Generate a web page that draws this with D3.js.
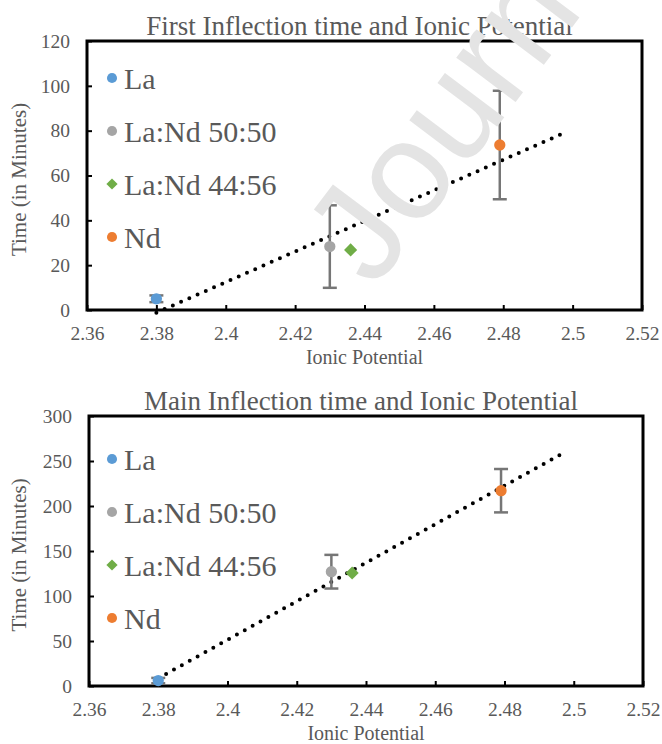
<!DOCTYPE html>
<html>
<head>
<meta charset="utf-8">
<script src="https://cdn.jsdelivr.net/npm/d3@7"></script>
<style>
  body { margin: 0; background: #fff; }
  text { font-family: "Liberation Serif", "Times New Roman", serif; fill: #595959; }
</style>
</head>
<body>
<svg id="chart" width="662" height="744"></svg>
<script>
// series shared by both panels
const seriesNames = ['La', 'La:Nd 50:50', 'La:Nd 44:56', 'Nd'];
const seriesColors = ['#5b9bd5', '#a5a5a5', '#70ad47', '#ed7d31'];
const seriesShapes = ['circle', 'circle', 'diamond', 'circle'];
const ionicPotential = [2.38, 2.43, 2.436, 2.479];

// first inflection (minutes) + error
const firstTime = [5, 28.3, 26.8, 73.6];
const firstErr = [1.5, 18.4, 0, 24.2];
const firstTrendX = [2.38, 2.4973];
const firstTrendY = [-1.2, 78.8];

// main inflection (minutes) + error
const mainTime = [6, 127, 125.5, 217];
const mainErr = [3, 18.7, 0, 24.1];
const mainTrendX = [2.38, 2.498];
const mainTrendY = [8.5, 261];

const xTicks = [2.36, 2.38, 2.4, 2.42, 2.44, 2.46, 2.48, 2.5, 2.52];
const firstYTicks = [0, 20, 40, 60, 80, 100, 120];
const mainYTicks = [0, 50, 100, 150, 200, 250, 300];

const svg = d3.select('#chart');

function drawPanel(opts) {
  const g = svg.append('g');
  const x = d3.scaleLinear().domain([2.36, 2.52]).range([opts.left, opts.right]);
  const y = d3.scaleLinear().domain([0, opts.yMax]).range([opts.bottom, opts.top]);

  // title
  g.append('text')
    .attr('x', (opts.left + opts.right) / 2 - 5)
    .attr('y', opts.top - 6)
    .attr('text-anchor', 'middle')
    .style('font-size', '27px')
    .text(opts.title);

  // axes, ticks pointing inside
  const xAxis = d3.axisBottom(x).tickValues(xTicks).tickSize(-5).tickFormat(d => +d.toFixed(2));
  const yAxis = d3.axisLeft(y).tickValues(opts.yTicks).tickSize(-5);

  const gx = g.append('g').attr('transform', `translate(0,${opts.bottom})`).call(xAxis);
  const gy = g.append('g').attr('transform', `translate(${opts.left},0)`).call(yAxis);
  [gx, gy].forEach(a => {
    a.attr('font-family', null);
    a.select('.domain').remove();
    a.selectAll('.tick line').attr('stroke', '#000').attr('stroke-width', 2);
    a.selectAll('.tick text').style('font-size', '19.5px')
      .style('font-family', '"Liberation Serif", "Times New Roman", serif').attr('fill', '#595959');
  });
  gx.selectAll('.tick text').attr('y', 16);
  gy.selectAll('.tick text').attr('x', -17);

  // plot frame
  g.append('rect')
    .attr('x', opts.left).attr('y', opts.top)
    .attr('width', opts.right - opts.left).attr('height', opts.bottom - opts.top)
    .attr('fill', 'none').attr('stroke', '#000').attr('stroke-width', 3);

  // axis titles
  g.append('text')
    .attr('x', (opts.left + opts.right) / 2)
    .attr('y', opts.bottom + 54)
    .attr('text-anchor', 'middle')
    .style('font-size', '20px')
    .text('Ionic Potential');
  g.append('text')
    .attr('transform', `translate(26,${(opts.top + opts.bottom) / 2 + 4}) rotate(-90)`)
    .attr('text-anchor', 'middle')
    .style('font-size', '21px')
    .text('Time (in Minutes)');

  // trendline (dotted)
  const line = d3.line().x(d => x(d[0])).y(d => y(d[1]));
  g.append('path')
    .datum(d3.zip(opts.trendX, opts.trendY))
    .attr('d', line)
    .attr('fill', 'none').attr('stroke', '#000')
    .attr('stroke-width', 4).attr('stroke-linecap', 'round')
    .attr('stroke-dasharray', '0 9');

  const pts = ionicPotential.map((v, i) => ({ x: v, y: opts.values[i], e: opts.errs[i], i }));

  // error bars
  const eb = g.selectAll('.eb').data(pts.filter(d => d.e > 0)).enter().append('g')
    .attr('stroke', '#767676').attr('stroke-width', 2.5);
  eb.append('line')
    .attr('x1', d => x(d.x)).attr('x2', d => x(d.x))
    .attr('y1', d => y(d.y - d.e)).attr('y2', d => y(d.y + d.e));
  eb.append('line')
    .attr('x1', d => x(d.x) - 7).attr('x2', d => x(d.x) + 7)
    .attr('y1', d => y(d.y - d.e)).attr('y2', d => y(d.y - d.e));
  eb.append('line')
    .attr('x1', d => x(d.x) - 7).attr('x2', d => x(d.x) + 7)
    .attr('y1', d => y(d.y + d.e)).attr('y2', d => y(d.y + d.e));

  // markers
  const sym = i => seriesShapes[i] === 'diamond'
    ? d3.symbol(d3.symbolDiamond2, 110)() : d3.symbol(d3.symbolCircle, 100)();
  g.selectAll('.pt').data(pts).enter().append('path')
    .attr('transform', d => `translate(${x(d.x)},${y(d.y)})`)
    .attr('d', d => sym(d.i))
    .attr('fill', d => seriesColors[d.i]);

  // legend
  const lg = g.selectAll('.lg').data(seriesNames).enter().append('g')
    .attr('transform', (d, i) => `translate(112,${opts.legendTop + i * 53})`);
  lg.append('path')
    .attr('d', (d, i) => seriesShapes[i] === 'diamond'
      ? d3.symbol(d3.symbolDiamond2, 80)() : d3.symbol(d3.symbolCircle, 80)())
    .attr('fill', (d, i) => seriesColors[i]);
  lg.append('text')
    .attr('x', 12).attr('dy', '0.35em')
    .style('font-size', '30px')
    .text(d => d);
}

drawPanel({
  title: 'First Inflection time and Ionic Potential',
  left: 87, right: 642, top: 41, bottom: 310, yMax: 120, yTicks: firstYTicks,
  values: firstTime, errs: firstErr, trendX: firstTrendX, trendY: firstTrendY,
  legendTop: 78
});

drawPanel({
  title: 'Main Inflection time and Ionic Potential',
  left: 89, right: 643, top: 416, bottom: 686, yMax: 300, yTicks: mainYTicks,
  values: mainTime, errs: mainErr, trendX: mainTrendX, trendY: mainTrendY,
  legendTop: 459
});

// watermark over the top panel (runs off the top edge as in the source)
svg.append('text')
  .attr('transform', 'translate(374,290) rotate(-53)')
  .style('font-family', '"Liberation Sans", Arial, sans-serif')
  .style('font-size', '140px')
  .style('fill', '#e4e4e4')
  .text('Journal');
</script>
</body>
</html>
